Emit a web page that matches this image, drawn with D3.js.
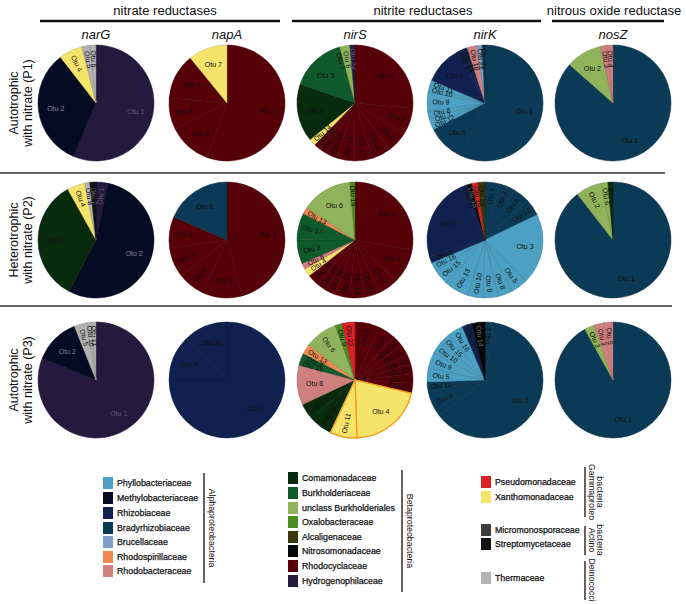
<!DOCTYPE html>
<html><head><meta charset="utf-8">
<script src="https://cdn.jsdelivr.net/npm/d3@7"></script>
<style>body{margin:0;background:#fff;} svg{display:block;font-family:"Liberation Sans",Arial,Helvetica,sans-serif;}</style>
</head><body><svg id="chart" width="686" height="604"></svg>
<script>
// ---------- data ----------
const genes = ["narG","napA","nirS","nirK","nosZ"];
const treatments = [["Autotrophic","with nitrate (P1)"],["Heterotrophic","with nitrate (P2)"],["Autotrophic","with nitrate (P3)"]];
const enzymeGroups = ["nitrate reductases","nitrite reductases","nitrous oxide reductase"];

const alphaFamilies = ["Phyllobacteriaceae","Methylobacteriaceae","Rhizobiaceae","Bradyrhizobiaceae","Brucellaceae","Rhodospirillaceae","Rhodobacteraceae"];
const alphaColors   = ["#4ba0c3","#060b24","#10214f","#0b3a56","#7f9dc9","#ef8a4f","#d07f7f"];
const betaFamilies  = ["Comamonadaceae","Burkholderiaceae","unclass Burkholderiales","Oxalobacteraceae","Alcaligenaceae","Nitrosomonadaceae","Rhodocyclaceae","Hydrogenophilaceae"];
const betaColors    = ["#082a0d","#0f5a2b","#8fb35b","#4b8c21","#38380a","#060606","#560008","#241a3d"];
const otherFamilies = ["Pseudomonadaceae","Xanthomonadaceae","Micromonosporaceae","Streptomycetaceae","Thermaceae"];
const otherColors   = ["#dc2026","#f5e36a","#3c3c3c","#121212","#b3b3b3"];

// slices, clockwise from 12 o'clock: [otu, family, percent]
const narG_P1 = [["Otu 1","Hydrogenophilaceae",56.4],["Otu 2","Methylobacteriaceae",33.1],["Otu 4","Xanthomonadaceae",6.6],["Otu 5","Thermaceae",2.2],["Otu 6","Thermaceae",1.7]];
const napA_P1 = [["Otu 1","Rhodocyclaceae",55.6],["Otu 3","Rhodocyclaceae",11.9],["Otu 4","Rhodocyclaceae",8.9],["Otu 5","Rhodocyclaceae",12.7],["Otu 7","Xanthomonadaceae",10.9]];
const nirS_P1 = [["Otu 1","Rhodocyclaceae",26.4],["Otu 2","Rhodocyclaceae",7.5],["Otu 4","Rhodocyclaceae",5.8],["Otu 8","Rhodocyclaceae",5.3],["Otu 10","Rhodocyclaceae",5.0],["Otu 12","Rhodocyclaceae",5.0],["Otu 15","Rhodocyclaceae",3.3],["Otu 21","Rhodocyclaceae",1.9],["Otu 22","Rhodocyclaceae",1.9],["Otu 14","Xanthomonadaceae",1.9],["Otu 5","Comamonadaceae",16.1],["Otu 3","Burkholderiaceae",13.6],["Otu 7","Burkholderiaceae",1.9],["Otu 6","unclass Burkholderiales",2.8],["Otu 24","Hydrogenophilaceae",1.4]];
const nirK_P1 = [["Otu 1","Bradyrhizobiaceae",56.9],["Otu 6","Bradyrhizobiaceae",10.6],["Otu 12","Phyllobacteriaceae",1.7],["Otu 7","Phyllobacteriaceae",1.7],["Otu 8","Phyllobacteriaceae",1.9],["Otu 9","Phyllobacteriaceae",5.3],["Otu 10","Phyllobacteriaceae",1.7],["Otu 11","Phyllobacteriaceae",1.7],["Otu 3","Rhizobiaceae",10.8],["Otu 13","Rhizobiaceae",1.4],["Otu 15","Rhizobiaceae",1.4],["Otu 18","Rhodobacteraceae",2.8],["Otu 21","Brucellaceae",1.4],["Otu 23","Bradyrhizobiaceae",0.8]];
const nosZ_P1 = [["Otu 1","Bradyrhizobiaceae",86.5],["Otu 2","unclass Burkholderiales",10.0],["Otu 3","Rhodobacteraceae",1.8],["Otu 4","Rhodobacteraceae",1.7]];

const narG_P2 = [["Otu 1","Hydrogenophilaceae",3.3],["Otu 2","Methylobacteriaceae",54.4],["Otu 3","Comamonadaceae",34.2],["Otu 4","Xanthomonadaceae",5.0],["Otu 8","Thermaceae",1.4],["Otu 7","Streptomycetaceae",1.7]];
const napA_P2 = [["Otu 1","Rhodocyclaceae",45.8],["Otu 3","Rhodocyclaceae",11.1],["Otu 4","Rhodocyclaceae",7.5],["Otu 5","Rhodocyclaceae",8.3],["Otu 8","Rhodocyclaceae",8.8],["Otu 6","Bradyrhizobiaceae",18.5]];
const nirS_P2 = [["Otu 1","Rhodocyclaceae",27.8],["Otu 2","Rhodocyclaceae",9.7],["Otu 7","Rhodocyclaceae",5.6],["Otu 10","Rhodocyclaceae",4.2],["Otu 14","Rhodocyclaceae",4.2],["Otu 16","Rhodocyclaceae",4.2],["Otu 18","Rhodocyclaceae",2.8],["Otu 20","Rhodocyclaceae",2.8],["Otu 21","Rhodocyclaceae",3.3],["Otu 4","Xanthomonadaceae",2.2],["Otu 8","Rhodobacteraceae",1.7],["Otu 3","Burkholderiaceae",6.7],["Otu 17","Burkholderiaceae",7.5],["Otu 13","Rhodospirillaceae",1.9],["Otu 6","unclass Burkholderiales",14.2],["Otu 19","Oxalobacteraceae",1.4]];
const nirK_P2 = [["Otu 1","Bradyrhizobiaceae",4.2],["Otu 2","Bradyrhizobiaceae",4.2],["Otu 6","Bradyrhizobiaceae",4.7],["Otu 12","Bradyrhizobiaceae",4.7],["Otu 3","Phyllobacteriaceae",19.7],["Otu 5","Phyllobacteriaceae",4.7],["Otu 8","Phyllobacteriaceae",4.2],["Otu 9","Phyllobacteriaceae",4.2],["Otu 10","Phyllobacteriaceae",4.2],["Otu 13","Phyllobacteriaceae",6.9],["Otu 15","Phyllobacteriaceae",4.4],["Otu 16","Phyllobacteriaceae",2.5],["Otu 4","Rhizobiaceae",1.7],["Otu 7","Rhizobiaceae",22.8],["Otu 17","Rhizobiaceae",1.9],["Otu 18","Nitrosomonadaceae",1.4],["Otu 19","Pseudomonadaceae",1.7],["Otu 20","Alcaligenaceae",1.9]];
const nosZ_P2 = [["Otu 1","Bradyrhizobiaceae",89.4],["Otu 2","unclass Burkholderiales",7.2],["Otu 6","unclass Burkholderiales",1.9],["Otu 7","Comamonadaceae",1.4]];

const narG_P3 = [["Otu 1","Hydrogenophilaceae",81.1],["Otu 2","Methylobacteriaceae",12.8],["Otu 5","Thermaceae",3.6],["Otu 10","Thermaceae",1.25],["Otu 11","Thermaceae",1.25]];
const napA_P3 = [["Otu 2","Rhizobiaceae",75.0],["Otu 9","Rhizobiaceae",12.5],["Otu 10","Rhizobiaceae",12.5]];
const nirS_P3 = [["Otu 2","Rhodocyclaceae",6.9],["Otu 5","Rhodocyclaceae",4.7],["Otu 14","Rhodocyclaceae",3.1],["Otu 15","Rhodocyclaceae",3.1],["Otu 18","Rhodocyclaceae",2.8],["Otu 23","Rhodocyclaceae",2.8],["Otu 30","Rhodocyclaceae",2.5],["Otu 24","Rhodocyclaceae",2.8],["Otu 4","Xanthomonadaceae",20.8],["Otu 11","Xanthomonadaceae",7.5],["Otu 16","Comamonadaceae",6.4],["Otu 20","Comamonadaceae",4.7],["Otu 8","Rhodobacteraceae",11.1],["Otu 29","Burkholderiaceae",1.7],["Otu 3","Burkholderiaceae",1.7],["Otu 13","Rhodospirillaceae",2.8],["Otu 6","unclass Burkholderiales",9.2],["Otu 9","Oxalobacteraceae",1.9],["Otu 22","Pseudomonadaceae",3.6]];
const nirK_P3 = [["Otu 1","Bradyrhizobiaceae",2.2],["Otu 2","Bradyrhizobiaceae",62.2],["Otu 6","Bradyrhizobiaceae",7.2],["Otu 12","Bradyrhizobiaceae",2.8],["Otu 5","Phyllobacteriaceae",3.9],["Otu 9","Phyllobacteriaceae",4.4],["Otu 10","Phyllobacteriaceae",3.3],["Otu 15","Phyllobacteriaceae",3.3],["Otu 16","Phyllobacteriaceae",4.2],["Otu 7","Rhizobiaceae",2.8],["Otu 14","Nitrosomonadaceae",3.6]];
const nosZ_P3 = [["Otu 1","Bradyrhizobiaceae",91.9],["Otu 2","unclass Burkholderiales",2.8],["Otu 3","Rhodobacteraceae",2.8],["Otu 5","Rhodobacteraceae",2.5]];

const pieRows = [
  [narG_P1, napA_P1, nirS_P1, nirK_P1, nosZ_P1],
  [narG_P2, napA_P2, nirS_P2, nirK_P2, nosZ_P2],
  [narG_P3, napA_P3, nirS_P3, nirK_P3, nosZ_P3]
];

// ---------- drawing ----------
const svg = d3.select("#chart");
const color = d3.scaleOrdinal()
  .domain([...alphaFamilies, ...betaFamilies, ...otherFamilies])
  .range([...alphaColors, ...betaColors, ...otherColors]);
const darkLabel = {"Methylobacteriaceae":"#7d8296","Hydrogenophilaceae":"#5e5874","Streptomycetaceae":"#6a6a6a","Nitrosomonadaceae":"#6a6a6a"};

const colX = d3.scaleOrdinal().domain(genes).range([96,227,355,485,613]);
const rowY = d3.scaleOrdinal().domain([0,1,2]).range([103,240,380]);
const R = 58;

// headers
const headers = [
  {t: enzymeGroups[0], cx: 165, x1: 40, x2: 280},
  {t: enzymeGroups[1], cx: 423, x1: 292, x2: 541},
  {t: enzymeGroups[2], cx: 614, x1: 552, x2: 664}
];
headers.forEach(h => {
  svg.append("text").attr("x", h.cx).attr("y", 15).attr("text-anchor","middle")
    .attr("font-size", 13).attr("fill","#111").text(h.t);
  svg.append("line").attr("x1", h.x1).attr("x2", h.x2).attr("y1", 21).attr("y2", 21)
    .attr("stroke","#111").attr("stroke-width", 2.6);
});
genes.forEach(g => {
  svg.append("text").attr("x", colX(g)).attr("y", 39).attr("text-anchor","middle")
    .attr("font-size", 13).attr("font-style","italic").attr("fill","#111").text(g);
});

// row labels
treatments.forEach((t, i) => {
  const g = svg.append("g").attr("transform", `translate(0,${rowY(i)})`);
  g.append("text").attr("transform","translate(18,0) rotate(-90)").attr("text-anchor","middle")
    .attr("font-size", 12.5).attr("fill","#111").text(t[0]);
  g.append("text").attr("transform","translate(32,0) rotate(-90)").attr("text-anchor","middle")
    .attr("font-size", 12.5).attr("fill","#111").text(t[1]);
});

// separators
svg.append("line").attr("x1",0).attr("x2",665).attr("y1",173).attr("y2",173).attr("stroke","#333").attr("stroke-width",1.6);
svg.append("line").attr("x1",0).attr("x2",672).attr("y1",306).attr("y2",306).attr("stroke","#333").attr("stroke-width",1.6);

// pies
const pie = d3.pie().sort(null).value(d => d[2]);
const arc = d3.arc().innerRadius(0).outerRadius(R);

pieRows.forEach((row, ri) => {
  row.forEach((data, ci) => {
    const g = svg.append("g").attr("transform", `translate(${colX(genes[ci])},${rowY(ri)})`);
    const arcs = pie(data);
    const special = (ri === 2 && ci === 2);
    g.selectAll("path").data(arcs).join("path")
      .attr("d", arc)
      .attr("fill", d => color(d.data[1]))
      .attr("stroke", d => special && d.data[1] === "Xanthomonadaceae" ? "#f0a020" : d3.color(color(d.data[1])).darker(0.7))
      .attr("stroke-width", d => special && d.data[1] === "Xanthomonadaceae" ? 1.4 : 0.5)
      .attr("stroke-linejoin","round");
    if (special) {
      g.selectAll("path").filter(d => d.data[1] === "Xanthomonadaceae").raise();
    }
    g.selectAll("text").data(arcs).join("text")
      .attr("font-size", 7)
      .attr("fill", d => darkLabel[d.data[1]] || "#111")
      .attr("text-anchor","middle")
      .attr("dominant-baseline","central")
      .attr("transform", d => {
        const mid = (d.startAngle + d.endAngle) / 2;
        const span = d.endAngle - d.startAngle;
        if (span > 0.6) {
          const rr = R * 0.7;
          return `translate(${Math.sin(mid)*rr},${-Math.cos(mid)*rr})`;
        }
        const rr = R * 0.76;
        const deg = mid * 180 / Math.PI;
        const rot = deg <= 180 ? deg - 90 : deg - 270;
        return `translate(${Math.sin(mid)*rr},${-Math.cos(mid)*rr}) rotate(${rot})`;
      })
      .text(d => d.data[0]);
  });
});

// legend
function legendGroup(names, x, ys) {
  names.forEach((n, i) => {
    svg.append("rect").attr("x", x).attr("y", ys[i] - 6).attr("width", 10).attr("height", 12)
      .attr("fill", color(n));
    svg.append("text").attr("x", x + 14).attr("y", ys[i]).attr("dominant-baseline","central")
      .attr("font-size", 8.8).attr("fill","#111").attr("stroke","#111").attr("stroke-width",0.25)
      .text(n);
  });
}
legendGroup(alphaFamilies, 103, [483,498,513,528,542,557,571]);
legendGroup(betaFamilies, 288, [478,493,508,522,537,551,566,581]);
legendGroup(otherFamilies, 481, [482,497,530,544,578]);

function vline(x, y1, y2) {
  svg.append("line").attr("x1",x).attr("x2",x).attr("y1",y1).attr("y2",y2).attr("stroke","#111").attr("stroke-width",1.3);
}
function vlabel(lines, x, cy) {
  lines.forEach((l, i) => {
    svg.append("text").attr("transform", `translate(${x + i*7.5},${cy}) rotate(90)`)
      .attr("text-anchor","middle").attr("font-size", 8.8).attr("fill","#111").text(l);
  });
}
vline(204, 473, 583); vlabel(["Alphaproteobacteria"], 209, 528);
vline(402, 470, 592); vlabel(["Betaproteobacteria"], 407, 531);
vline(585, 467, 517); vlabel(["Gammaproteo","bacteria"], 589, 492);
vline(585, 526, 555); vlabel(["Actino","bacteria"], 589, 540);
vline(585, 561, 600); vlabel(["Deinococci"], 589, 580);
</script></body></html>
